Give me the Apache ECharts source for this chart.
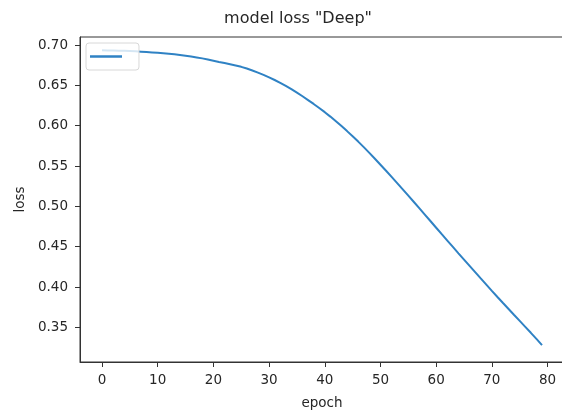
<!DOCTYPE html>
<html>
<head>
<meta charset="utf-8">
<script src="https://cdn.jsdelivr.net/npm/echarts@6/dist/echarts.min.js"></script>
<style>
  html, body { margin: 0; padding: 0; background: #fff; }
  #main { width: 562px; height: 411px; }
</style>
</head>
<body>
<div id="main"></div>
<script>
// loss per epoch
var epochs = [];
for (var i = 0; i < 80; i++) epochs.push(i);

var loss = [
  0.6935, 0.6934, 0.6932, 0.6930, 0.6928, 0.6925, 0.6922, 0.6918, 0.6914, 0.6909,
  0.6904, 0.6898, 0.6892, 0.6885, 0.6877, 0.6868, 0.6858, 0.6847, 0.6835, 0.6821,
  0.6806, 0.6791, 0.6777, 0.6762, 0.6746, 0.6730, 0.6709, 0.6685, 0.6659, 0.6631,
  0.6600, 0.6567, 0.6532, 0.6494, 0.6453, 0.6410, 0.6365, 0.6318, 0.6270, 0.6220,
  0.6168, 0.6113, 0.6055, 0.5995, 0.5933, 0.5869, 0.5803, 0.5734, 0.5663, 0.5590,
  0.5516, 0.5441, 0.5365, 0.5288, 0.5211, 0.5133, 0.5054, 0.4975, 0.4895, 0.4815,
  0.4735, 0.4655, 0.4576, 0.4497, 0.4418, 0.4340, 0.4262, 0.4184, 0.4106, 0.4029,
  0.3952, 0.3876, 0.3801, 0.3727, 0.3653, 0.3580, 0.3506, 0.3432, 0.3357, 0.3280
];

var xTicks = [0, 10, 20, 30, 40, 50, 60, 70, 80];
var yTicks = [0.35, 0.40, 0.45, 0.50, 0.55, 0.60, 0.65, 0.70];

var points = epochs.map(function (e, i) { return [e, loss[i]]; });

var font = 'DejaVu Sans';
var txt = '#262626';
var myChart = echarts.init(document.getElementById('main'));

var option = {
  animation: false,
  backgroundColor: '#fff',
  title: {
    text: 'model loss "Deep"',
    left: 293,
    textAlign: 'center',
    top: 6,
    textStyle: { fontFamily: font, fontSize: 16, fontWeight: 'normal', color: txt }
  },
  legend: {
    left: 86,
    top: 43,
    data: [' '],
    icon: 'rect',
    itemWidth: 32,
    itemHeight: 2.5,
    padding: [12, 11, 12, 4],
    backgroundColor: 'rgba(255,255,255,0.8)',
    borderColor: '#d8d8d8',
    borderWidth: 1,
    borderRadius: 3,
    textStyle: { fontFamily: font, fontSize: 3 }
  },
  grid: {
    left: 80,
    right: -2,
    top: 37,
    bottom: 49,
    outerBoundsMode: 'none',
    containLabel: false,
    show: true,
    borderColor: '#333',
    borderWidth: 1
  },
  xAxis: {
    type: 'value',
    min: -3.95,
    max: 82.95,
    name: 'epoch',
    nameLocation: 'middle',
    nameGap: 34,
    nameTextStyle: { fontFamily: font, fontSize: 13.5, color: txt },
    axisLine: { show: true, onZero: false, lineStyle: { color: '#333' } },
    axisTick: { show: true, length: 5, customValues: xTicks, lineStyle: { color: '#333' } },
    axisLabel: { customValues: xTicks, margin: 11, fontFamily: font, fontSize: 13.5, color: txt },
    splitLine: { show: false }
  },
  yAxis: {
    type: 'value',
    min: 0.307,
    max: 0.71,
    name: 'loss',
    nameLocation: 'middle',
    nameGap: 50,
    nameTextStyle: { fontFamily: font, fontSize: 13.5, color: txt },
    axisLine: { show: true, onZero: false, lineStyle: { color: '#333' } },
    axisTick: { show: true, length: 5, customValues: yTicks, lineStyle: { color: '#333' } },
    axisLabel: {
      customValues: yTicks, margin: 12, fontFamily: font, fontSize: 13.5, color: txt,
      formatter: function (v) { return v.toFixed(2); }
    },
    splitLine: { show: false }
  },
  series: [
    {
      name: ' ',
      type: 'line',
      data: points,
      symbol: 'none',
      lineStyle: { color: '#2f82c4', width: 2 },
      itemStyle: { color: '#2f82c4' }
    }
  ]
};

myChart.setOption(option);
</script>
</body>
</html>
